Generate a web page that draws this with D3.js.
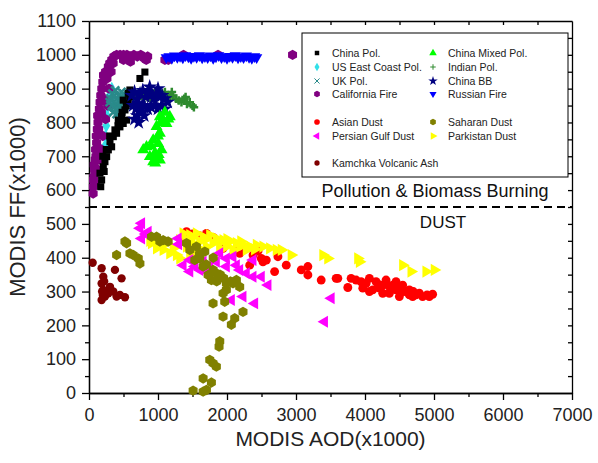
<!DOCTYPE html>
<html>
<head>
<meta charset="utf-8">
<script src="https://cdn.jsdelivr.net/npm/d3@7"></script>
<style>
body { margin: 0; background: #ffffff; }
text { font-family: "Liberation Sans", Arial, sans-serif; }
</style>
</head>
<body>
<script>
// tick labels
var X_TICKS = [0, 1000, 2000, 3000, 4000, 5000, 6000, 7000];
var Y_TICKS = [0, 100, 200, 300, 400, 500, 600, 700, 800, 900, 1000, 1100];

// [AOD, FF] pairs
var chinaPol = [[183,630],[159,650],[207,669],[231,684],[256,699],[280,719],[328,728],[304,743],[352,758],[400,768],[376,778],[448,787],[496,797],[424,807],[472,817],[545,807],[521,837],[569,856],[593,876],[496,866],[569,886],[593,896],[738,930],[810,949],[200,700],[250,720],[300,760],[420,790],[480,830],[540,850],[170,610],[220,655]];
var usEastCoastPol = [[330,900],[300,880],[280,850],[260,820],[250,790],[310,860],[350,890],[240,760],[270,940],[320,870],[230,730]];
var ukPol = [[310,870],[340,885],[370,880],[400,870],[430,880],[460,875],[500,885],[540,870],[580,880],[330,850],[360,845],[390,855],[420,840],[450,850],[480,860],[520,850],[560,860],[350,830],[400,825],[440,835],[480,840],[300,860],[600,875],[380,895],[470,890]];
var californiaFire = [[63,610],[70,640],[60,590],[80,660],[90,690],[75,675],[100,700],[95,720],[110,740],[105,760],[120,780],[130,800],[125,820],[150,840],[160,860],[170,880],[185,900],[200,920],[210,940],[240,950],[280,965],[300,975],[330,985],[360,995],[400,1000],[450,1000],[500,1000],[550,1000],[600,995],[650,1000],[700,995],[750,1000],[800,990],[830,985],[850,995],[600,980],[500,985],[1100,985],[1150,985],[1370,1000],[1870,1000],[2950,1000],[65,630],[90,620],[140,780],[180,830],[200,760],[240,810],[270,850],[290,900],[220,870],[260,930],[180,720],[150,690],[130,660],[320,950],[350,975]];
var chinaMixedPol = [[1075,807],[1123,797],[1171,817],[1027,817],[979,788],[1027,768],[930,748],[1003,738],[834,728],[786,719],[882,699],[930,684],[1027,689],[955,709],[1051,719],[1100,830],[1150,810],[1000,760],[900,730],[980,700],[1040,800],[960,680],[1010,705]];
var indianPol = [[660,880],[700,885],[740,890],[780,880],[820,885],[860,890],[900,880],[940,885],[980,875],[1020,880],[1060,885],[1100,890],[1140,880],[1180,875],[1220,880],[1260,870],[1300,865],[1340,860],[1380,870],[1420,855],[1460,860],[1500,850],[1520,845],[1400,875],[1200,890],[1000,895],[800,870],[900,865]];
var chinaBB = [[620,880],[660,890],[700,870],[740,885],[780,895],[820,875],[860,890],[900,880],[940,870],[980,885],[1020,875],[1060,880],[1100,870],[1140,860],[640,850],[680,840],[720,855],[760,845],[800,850],[850,840],[900,845],[950,850],[1000,840],[1050,850],[1100,840],[700,820],[750,830],[800,820],[720,800],[660,810],[880,905],[1000,900]];
var russianFire = [[1120,992],[1160,995],[1200,990],[1240,997],[1280,993],[1320,996],[1360,991],[1400,998],[1440,994],[1480,990],[1520,996],[1560,993],[1600,998],[1640,991],[1680,995],[1720,992],[1760,997],[1800,990],[1840,994],[1880,998],[1920,992],[1960,995],[2000,990],[2040,996],[2080,993],[2120,998],[2160,991],[2200,995],[2240,992],[2280,997],[2320,993],[2360,990],[2400,995],[2430,992]];
var asianDust = [[1413,477],[1702,472],[1943,428],[2136,423],[2184,413],[2329,378],[2377,408],[2497,398],[2521,388],[2570,393],[2690,359],[2738,403],[2859,378],[3076,364],[3172,374],[3172,349],[3365,334],[3582,339],[1500,470],[1600,465],[1800,460],[2000,445],[2250,430],[2450,420],[3606,339],[3751,312],[3799,339],[3871,334],[3944,329],[3968,310],[4016,324],[4064,339],[4112,305],[4161,329],[4209,310],[4257,319],[4305,334],[4353,295],[4402,319],[4450,329],[4498,285],[4546,319],[4594,300],[4643,305],[4691,285],[4739,290],[4787,295],[4835,285],[4980,292],[4064,300],[4257,295],[4450,305],[4498,310],[4643,290],[4932,285],[4200,320],[4350,315],[4550,300],[4700,300],[4900,290]];
var persianGulfDust = [[738,487],[762,502],[858,477],[762,457],[1292,457],[1364,378],[1461,359],[1533,374],[1654,388],[1605,364],[1750,378],[1846,388],[1895,413],[1991,398],[2087,403],[2184,364],[2280,354],[2377,344],[2497,344],[2594,319],[2377,393],[2136,378],[2063,275],[2232,285],[2401,265],[3413,211],[3510,280],[1991,374],[1702,359],[1461,393],[820,470],[1300,440]];
var saharanDust = [[400,408],[521,448],[545,443],[593,413],[641,408],[714,398],[738,383],[906,462],[979,462],[1075,452],[1147,448],[1027,448],[1413,443],[1461,423],[1557,433],[1533,393],[1605,398],[1678,418],[1654,374],[1726,349],[1798,364],[1846,354],[1774,334],[1895,339],[1991,324],[2087,324],[2136,334],[2184,314],[1991,305],[1943,295],[1798,265],[1967,270],[2232,240],[2112,221],[1943,226],[2063,202],[1895,153],[1885,137],[1750,98],[1798,88],[1846,78],[1654,43],[1774,31],[1509,7],[1654,4],[1702,9],[1850,330],[1950,340],[2050,330],[1700,380],[1800,400],[1600,410],[1900,350]];
var parkistanDust = [[906,443],[979,428],[1075,423],[1171,413],[1268,408],[1316,398],[1364,472],[1461,467],[1557,472],[1654,462],[1750,467],[1846,457],[1943,452],[2039,448],[2136,443],[2232,438],[2329,433],[2425,438],[2521,433],[2618,428],[2714,423],[2787,423],[2931,408],[3389,408],[3461,398],[1413,433],[1509,443],[1605,448],[1702,433],[1798,443],[1895,428],[1991,433],[2087,423],[2184,433],[2280,423],[1123,443],[1027,438],[1220,428],[1316,452],[1461,413],[1557,418],[1630,423],[882,450],[1400,455],[1500,460],[1700,455],[1900,445],[2000,455],[2200,448],[2400,425],[3895,398],[3919,388],[4546,378],[4667,359],[4884,359],[5004,364]];
var kamchkaAsh = [[53,385],[183,369],[207,344],[183,324],[207,305],[183,275],[231,285],[304,314],[352,300],[400,285],[448,290],[521,283],[376,364],[472,339],[280,295],[200,290],[190,300],[220,330],[250,300]];

var BOUNDARY = 550;

var W = 598, H = 463;
var LEFT = 89, RIGHT = 572, TOP = 21, BOTTOM = 393;

// stroke-only and extra marker shapes
var symbolPlus = { draw: function (c, size) {
    var r = Math.sqrt(size) / 2;
    c.moveTo(-r, 0); c.lineTo(r, 0);
    c.moveTo(0, -r); c.lineTo(0, r);
} };
var symbolTimes = { draw: function (c, size) {
    var r = Math.sqrt(size) / 2.4;
    c.moveTo(-r, -r); c.lineTo(r, r);
    c.moveTo(-r, r); c.lineTo(r, -r);
} };
var symbolHexagon = { draw: function (c, size) {
    var r = Math.sqrt(size / 2.598);
    for (var i = 0; i < 6; i++) {
        var a = Math.PI / 3 * i + Math.PI / 6;
        if (i == 0) c.moveTo(r * Math.cos(a), r * Math.sin(a));
        else c.lineTo(r * Math.cos(a), r * Math.sin(a));
    }
    c.closePath();
} };

// draw order follows the overlaps seen in the picture
var series = [
    { name: 'US East Coast Pol.', data: usEastCoastPol, type: d3.symbolDiamond, color: '#33e0e8', size: 55, rot: 0 },
    { name: 'California Fire', data: californiaFire, type: symbolHexagon, color: '#800080', size: 70, rot: 0 },
    { name: 'UK Pol.', data: ukPol, type: symbolTimes, color: '#2a8a8a', size: 95, rot: 0, line: true },
    { name: 'China Pol.', data: chinaPol, type: d3.symbolSquare, color: '#000000', size: 50, rot: 0 },
    { name: 'Indian Pol.', data: indianPol, type: symbolPlus, color: '#2f8a2f', size: 75, rot: 0, line: true },
    { name: 'China BB', data: chinaBB, type: d3.symbolStar, color: '#000080', size: 70, rot: 0 },
    { name: 'China Mixed Pol.', data: chinaMixedPol, type: d3.symbolTriangle, color: '#00ff00', size: 62, rot: 0 },
    { name: 'Russian Fire', data: russianFire, type: d3.symbolTriangle, color: '#0000ff', size: 55, rot: 180 },
    { name: 'Asian Dust', data: asianDust, type: d3.symbolCircle, color: '#ff0000', size: 62, rot: 0 },
    { name: 'Parkistan Dust', data: parkistanDust, type: d3.symbolTriangle, color: '#ffff00', size: 65, rot: 90 },
    { name: 'Persian Gulf Dust', data: persianGulfDust, type: d3.symbolTriangle, color: '#ff00ff', size: 62, rot: -90 },
    { name: 'Saharan Dust', data: saharanDust, type: symbolHexagon, color: '#808000', size: 70, rot: 0 },
    { name: 'Kamchka Volcanic Ash', data: kamchkaAsh, type: d3.symbolCircle, color: '#800000', size: 55, rot: 0 }
];

var x = d3.scaleLinear().domain([0, 7000]).range([LEFT, RIGHT]);
var y = d3.scaleLinear().domain([0, 1100]).range([BOTTOM, TOP]);
var fmt = d3.format('d');

var svg = d3.select('body').append('svg')
    .attr('width', W)
    .attr('height', H);

// axes: bottom/left ticks out, top/right ticks in
svg.append('g')
    .attr('class', 'axis')
    .attr('transform', 'translate(0,' + BOTTOM + ')')
    .call(d3.axisBottom(x).tickValues(d3.range(500, 7000, 1000)).tickSize(4).tickSizeOuter(0).tickFormat(''));
svg.append('g')
    .attr('class', 'axis')
    .attr('transform', 'translate(0,' + BOTTOM + ')')
    .call(d3.axisBottom(x).tickValues(X_TICKS).tickSize(7).tickSizeOuter(0).tickPadding(8).tickFormat(fmt));
svg.append('g')
    .attr('class', 'axis')
    .attr('transform', 'translate(' + LEFT + ',0)')
    .call(d3.axisLeft(y).tickValues(d3.range(50, 1100, 100)).tickSize(4).tickSizeOuter(0).tickFormat(''));
svg.append('g')
    .attr('class', 'axis')
    .attr('transform', 'translate(' + LEFT + ',0)')
    .call(d3.axisLeft(y).tickValues(Y_TICKS).tickSize(7).tickSizeOuter(0).tickPadding(6).tickFormat(fmt));
svg.append('g')
    .attr('class', 'axis')
    .attr('transform', 'translate(0,' + TOP + ')')
    .call(d3.axisBottom(x).tickValues(d3.range(500, 7000, 500)).tickSize(4).tickSizeOuter(0).tickFormat(''));
svg.append('g')
    .attr('class', 'axis')
    .attr('transform', 'translate(' + RIGHT + ',0)')
    .call(d3.axisLeft(y).tickValues(d3.range(50, 1100, 50)).tickSize(4).tickSizeOuter(0).tickFormat(''));

svg.selectAll('.axis path, .axis line')
    .style('stroke', '#000')
    .style('stroke-width', 1.3);
svg.selectAll('.axis text')
    .style('font-size', '18px')
    .style('fill', '#222');

// boundary between the two groups
svg.append('line')
    .attr('x1', LEFT)
    .attr('x2', RIGHT)
    .attr('y1', y(BOUNDARY))
    .attr('y2', y(BOUNDARY))
    .style('stroke', '#000')
    .style('stroke-width', 2)
    .style('stroke-dasharray', '8,5');

svg.append('text')
    .attr('x', 435)
    .attr('y', 197)
    .attr('text-anchor', 'middle')
    .style('font-size', '18px')
    .style('fill', '#111')
    .text('Pollution & Biomass Burning');
svg.append('text')
    .attr('x', 443)
    .attr('y', 228)
    .attr('text-anchor', 'middle')
    .style('font-size', '17px')
    .style('fill', '#111')
    .text('DUST');

// points
series.forEach(function (s) {
    svg.append('g').selectAll('path')
        .data(s.data)
        .enter()
        .append('path')
        .attr('transform', function (d) {
            return 'translate(' + x(d[0]) + ',' + y(d[1]) + ') rotate(' + s.rot + ')';
        })
        .attr('d', d3.symbol().type(s.type).size(s.size))
        .style('fill', s.line ? 'none' : s.color)
        .style('stroke', s.line ? s.color : 'none')
        .style('stroke-width', s.line ? 2.5 : 0);
});

// legend
var legend = svg.append('g');
legend.append('rect')
    .attr('x', 302)
    .attr('y', 33)
    .attr('width', 266)
    .attr('height', 144)
    .style('fill', '#fff')
    .style('stroke', '#000')
    .style('stroke-width', 1);

var legendRows = [
    ['China Pol.', 0, 53], ['US East Coast Pol.', 0, 67], ['UK Pol.', 0, 81], ['California Fire', 0, 94],
    ['Asian Dust', 0, 122], ['Persian Gulf Dust', 0, 136], ['Kamchka Volcanic Ash', 0, 163],
    ['China Mixed Pol.', 1, 53], ['Indian Pol.', 1, 67], ['China BB', 1, 81], ['Russian Fire', 1, 94],
    ['Saharan Dust', 1, 122], ['Parkistan Dust', 1, 136]
];
var colX = [332, 448];

legendRows.forEach(function (r) {
    var s = series.filter(function (d) { return d.name == r[0]; })[0];
    var tx = colX[r[1]];
    legend.append('path')
        .attr('transform', 'translate(' + (tx - 15) + ',' + r[2] + ') rotate(' + s.rot + ')')
        .attr('d', d3.symbol().type(s.type).size(s.size * 0.4))
        .style('fill', s.line ? 'none' : s.color)
        .style('stroke', s.line ? s.color : 'none')
        .style('stroke-width', s.line ? 1 : 0);
    legend.append('text')
        .attr('x', tx)
        .attr('y', r[2])
        .attr('dy', '0.36em')
        .style('font-size', '10.5px')
        .style('fill', '#222')
        .text(r[0]);
});

// axis titles
svg.append('text')
    .attr('x', (LEFT + RIGHT) / 2)
    .attr('y', 446)
    .attr('text-anchor', 'middle')
    .style('font-size', '21px')
    .style('fill', '#222')
    .text('MODIS AOD(x1000)');
svg.append('text')
    .attr('transform', 'translate(25,' + ((TOP + BOTTOM) / 2) + ') rotate(-90)')
    .attr('text-anchor', 'middle')
    .style('font-size', '22px')
    .style('fill', '#222')
    .text('MODIS FF(x1000)');
</script>
</body>
</html>
